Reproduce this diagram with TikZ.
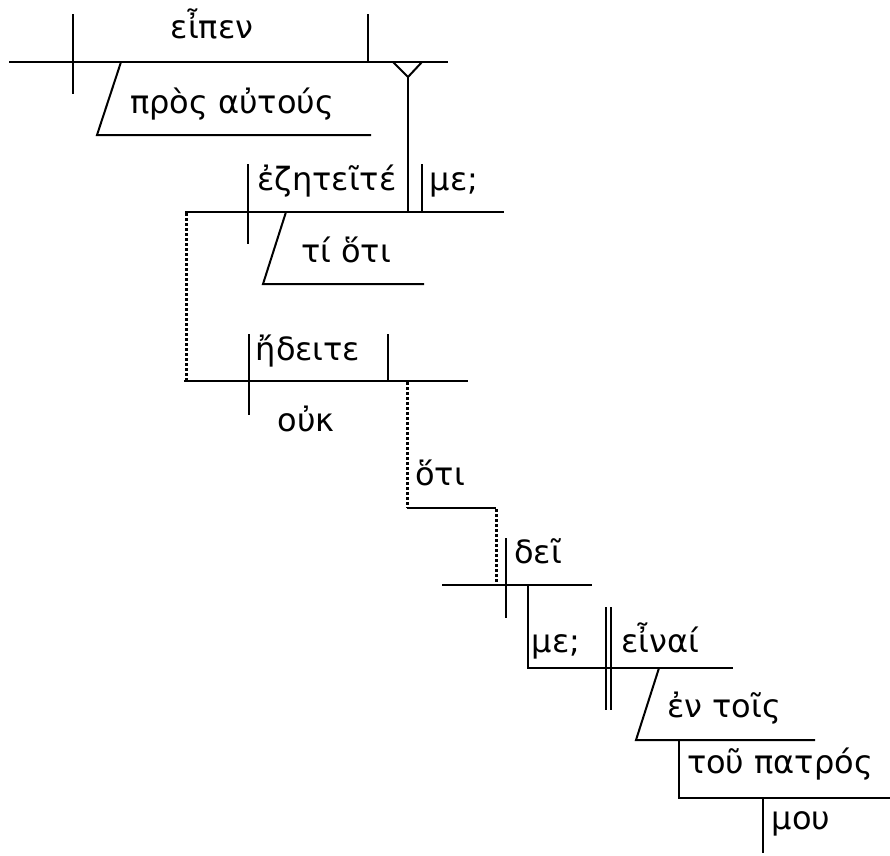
\documentclass[tikz,border=0pt]{standalone}
\usepackage{fontspec}
\setmainfont{DejaVu Sans}
\usetikzlibrary{positioning}
\tikzset{x=1pt, y=-1pt,
every node/.style={ % Sets the look of each Greek word
inner sep=0pt,
anchor=base,
font=\fontsize{32}{38}\selectfont},
rule/.style={ % Base lines, dividers and modifier slants
draw,
line width=2pt},
link/.style={ % Dotted lines that join the clauses
draw,
line width=3pt,
dash pattern=on 2.5pt off 2.5pt}}

\begin{document}
\begin{tikzpicture}
\useasboundingbox (0,0) rectangle (890,855);
% words
\node (eipen) at (212,38) {εἶπεν};
\node (pros) at (232,113) {πρὸς αὐτούς};
\node (ezeteite) at (327,190) {ἐζητεῖτέ};
\node (me1) at (454,190) {με;};
\node (tioti) at (346,262) {τί ὅτι};
\node (edeite) at (308,360) {ἤδειτε};
\node (ouk) at (306,431) {οὐκ};
\node (hoti) at (440,485) {ὅτι};
\node (dei) at (538,563) {δεῖ};
\node (me2) at (556,652) {με;};
\node (einai) at (660,652) {εἶναί};
\node (entois) at (724,717) {ἐν τοῖς};
\node (patros) at (780,773) {τοῦ πατρός};
\node (mou) at (801,829) {μου};
% main clause
\draw[rule] (9,62) -- (448,62);
\draw[rule] (73,14) -- (73,94);
\draw[rule] (368,14) -- (368,62);
\draw[rule] (121,62) -- (97,135) -- (371,135);
\draw[rule] (393,62) -- (408,77) -- (422,62);
\draw[rule] (408,77) -- (408,212);
% object clause
\draw[rule] (185,212) -- (504,212);
\draw[rule] (248,164) -- (248,244);
\draw[rule] (422,164) -- (422,212);
\draw[rule] (286,212) -- (263,284) -- (424,284);
\draw[link] (186,213) -- (186,381);
\draw[rule] (184,381) -- (468,381);
\draw[rule] (249,334) -- (249,415);
\draw[rule] (388,334) -- (388,381);
\draw[link] (407,382) -- (407,508);
\draw[rule] (407,508) -- (496,508);
\draw[link] (496,509) -- (496,585);
% hoti clause
\draw[rule] (442,585) -- (592,585);
\draw[rule] (506,538) -- (506,618);
\draw[rule] (528,585) -- (528,668) -- (733,668);
\draw[rule] (606,607) -- (606,710);
\draw[rule] (611,607) -- (611,710);
\draw[rule] (659,668) -- (636,740) -- (815,740);
\draw[rule] (679,740) -- (679,798) -- (890,798);
\draw[rule] (763,798) -- (763,853);
\end{tikzpicture}
\end{document}
